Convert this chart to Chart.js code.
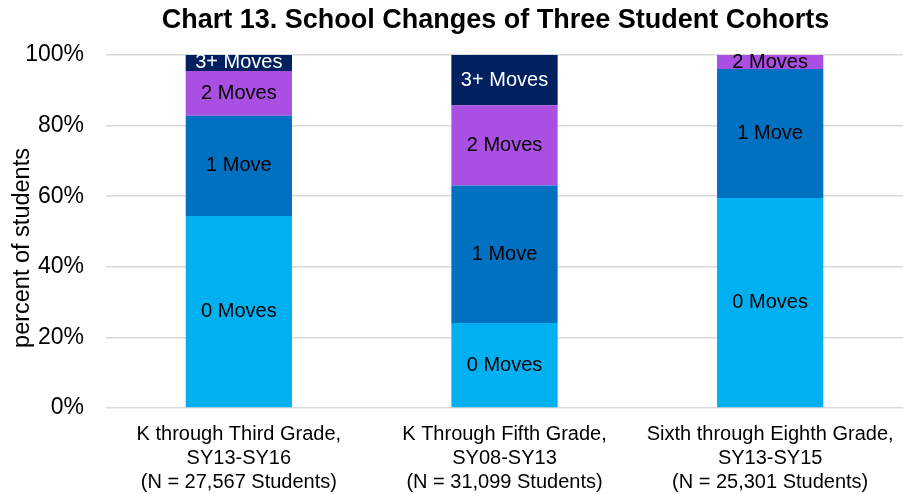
<!DOCTYPE html>
<html>
<head>
<meta charset="utf-8">
<script src="https://cdn.jsdelivr.net/npm/chart.js@4/dist/chart.umd.min.js"></script>
<style>
  html, body { margin: 0; padding: 0; background: #fff; }
  #wrap { width: 903px; height: 494px; }
</style>
</head>
<body>
<div id="wrap"><canvas id="chart" width="903" height="494"></canvas></div>
<script>
const cohorts = [
  ['K through Third Grade,', 'SY13-SY16', '(N = 27,567 Students)'],
  ['K Through Fifth Grade,', 'SY08-SY13', '(N = 31,099 Students)'],
  ['Sixth through Eighth Grade,', 'SY13-SY15', '(N = 25,301 Students)']
];
const moveLabels = ['0 Moves', '1 Move', '2 Moves', '3+ Moves'];
const zeroMoves = [54.4, 24.1, 59.5];
const oneMove = [28.4, 38.9, 36.5];
const twoMoves = [12.7, 22.8, 4.0];
const threePlusMoves = [4.5, 14.2, 0];
const yTicks = [0, 20, 40, 60, 80, 100];

const FONT = '"Liberation Sans", Arial, sans-serif';

// text in the middle of each segment
const segmentLabels = {
  id: 'segmentLabels',
  afterDatasetsDraw(chart) {
    const ctx = chart.ctx;
    chart.data.datasets.forEach((ds, i) => {
      chart.getDatasetMeta(i).data.forEach((bar, j) => {
        if (!ds.data[j]) return;
        const p = bar.getProps(['x', 'y', 'base'], true);
        ctx.save();
        ctx.font = '20px ' + FONT;
        ctx.fillStyle = ds.textColor;
        ctx.textAlign = 'center';
        ctx.textBaseline = 'middle';
        ctx.fillText(ds.label, p.x, (p.y + p.base) / 2);
        ctx.restore();
      });
    });
  }
};

// rotated y axis title, and nudge the chart title a bit left
const yTitle = {
  id: 'yTitle',
  afterLayout(chart) {
    const t = chart.titleBlock;
    if (t) { t.left -= 9; t.right -= 9; }
  },
  afterDraw(chart) {
    const ctx = chart.ctx;
    ctx.save();
    ctx.translate(23, 248);
    ctx.rotate(-Math.PI / 2);
    ctx.font = '23.5px ' + FONT;
    ctx.fillStyle = '#000';
    ctx.textAlign = 'center';
    ctx.textBaseline = 'middle';
    ctx.fillText('percent of students', 0, 0);
    ctx.restore();
  }
};

const seriesColors = ['#00B0F0', '#0070C0', '#A94FE2', '#002060'];
const seriesText = ['#000', '#000', '#000', '#fff'];
const seriesData = [zeroMoves, oneMove, twoMoves, threePlusMoves];

new Chart(document.getElementById('chart').getContext('2d'), {
  type: 'bar',
  data: {
    labels: cohorts,
    datasets: moveLabels.map((name, i) => ({
      label: name,
      data: seriesData[i],
      backgroundColor: seriesColors[i],
      textColor: seriesText[i],
      borderWidth: 0,
      barPercentage: 0.4,
      categoryPercentage: 1.0
    }))
  },
  options: {
    responsive: false,
    animation: false,
    layout: { padding: 0 },
    plugins: {
      legend: { display: false },
      tooltip: { enabled: false },
      title: {
        display: true,
        fullSize: false,
        text: 'Chart 13. School Changes of Three Student Cohorts',
        color: '#000',
        font: { family: FONT, size: 27, weight: 'bold', lineHeight: 1.2 },
        padding: { top: 4, bottom: 18.6 }
      }
    },
    scales: {
      x: {
        stacked: true,
        grid: { display: false, drawTicks: false },
        border: { display: false },
        ticks: {
          color: '#000',
          padding: 14,
          maxRotation: 0,
          autoSkip: false,
          font: { family: FONT, size: 20, lineHeight: 1.2 }
        },
        afterFit(scale) {
          scale.height = 86;
          scale.paddingLeft = 0;
          scale.paddingRight = 0;
        }
      },
      y: {
        stacked: true,
        min: 0,
        max: 100,
        afterBuildTicks(scale) { scale.ticks = yTicks.map(v => ({ value: v })); },
        grid: { color: '#D9D9D9', lineWidth: 1.5, drawTicks: false },
        border: { display: false },
        ticks: {
          color: '#000',
          padding: 22,
          font: { family: FONT, size: 23 },
          callback: v => v + '%'
        },
        afterFit(scale) { scale.width = 106; }
      }
    }
  },
  plugins: [segmentLabels, yTitle]
});
</script>
</body>
</html>
